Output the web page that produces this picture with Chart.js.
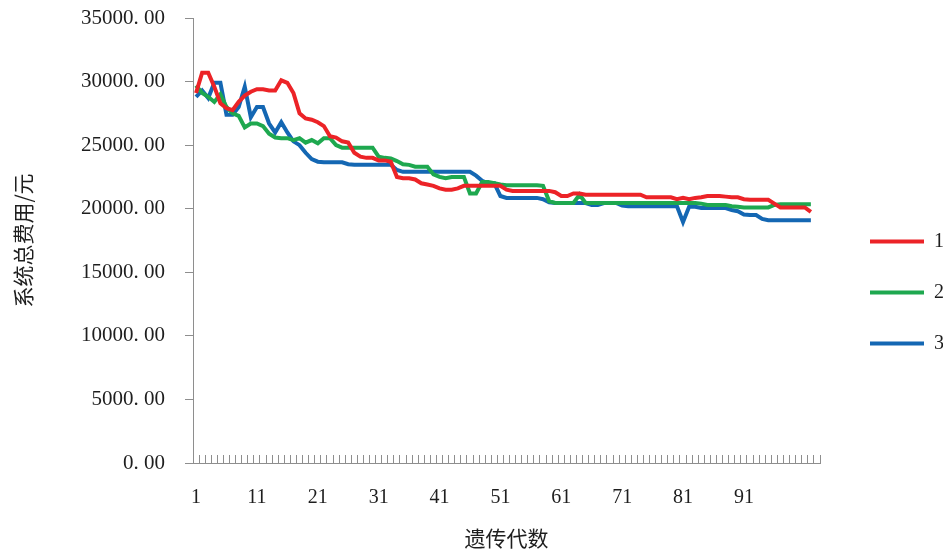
<!DOCTYPE html>
<html>
<head>
<meta charset="utf-8">
<script src="https://cdn.jsdelivr.net/npm/chart.js@4/dist/chart.umd.min.js"></script>
<style>
  html, body { margin: 0; padding: 0; background: #fff; }
  #wrap { width: 943px; height: 551px; }
</style>
</head>
<body>
<div id="wrap"><canvas id="myChart" width="943" height="551"></canvas></div>
<script>
// generations 1..103 on the axis, the runs stop at 102
const generations = [];
for (let g = 1; g <= 103; g++) generations.push(String(g));

const seriesNames = ['1', '2', '3'];

const run1 = [
  29100, 30700, 30700, 29600, 28300, 27900, 27750, 28400, 28900, 29200,
  29400, 29400, 29300, 29300, 30100, 29900, 29100, 27500, 27100, 27000,
  26800, 26500, 25700, 25600, 25300, 25200, 24400, 24100, 24000, 24000,
  23800, 23800, 23700, 22500, 22400, 22400, 22300, 22000, 21900, 21800,
  21600, 21500, 21500, 21600, 21800, 21800, 21800, 21800, 21800, 21800,
  21800, 21500, 21400, 21400, 21400, 21400, 21400, 21400, 21400, 21300,
  21000, 21000, 21200, 21200, 21100, 21100, 21100, 21100, 21100, 21100,
  21100, 21100, 21100, 21100, 20900, 20900, 20900, 20900, 20900, 20750,
  20850, 20750, 20850, 20900, 21000, 21000, 21000, 20950, 20900, 20900,
  20750, 20700, 20700, 20700, 20700, 20400, 20100, 20100, 20100, 20100,
  20100, 19750
];

const run2 = [
  29700, 29100, 28800, 28400, 29000, 28000, 27500, 27300, 26400, 26700,
  26700, 26500, 25900, 25600, 25550, 25550, 25400, 25550, 25200, 25400,
  25150, 25550, 25550, 25000, 24800, 24800, 24800, 24800, 24800, 24800,
  24100, 24000, 23950, 23750, 23500, 23450, 23300, 23300, 23300, 22700,
  22500, 22400, 22500, 22500, 22500, 21200, 21200, 22100, 22100, 22000,
  21900, 21850, 21850, 21850, 21850, 21850, 21850, 21800, 20600, 20450,
  20450, 20450, 20450, 21100, 20450, 20450, 20450, 20450, 20450, 20450,
  20450, 20450, 20450, 20450, 20450, 20450, 20450, 20450, 20450, 20450,
  20450, 20450, 20450, 20400, 20300, 20300, 20300, 20300, 20200, 20150,
  20100, 20100, 20100, 20100, 20100, 20300, 20350, 20350, 20350, 20350,
  20350, 20350
];

const run3 = [
  28800, 29300, 28700, 29900, 29900, 27400, 27400, 28000, 29600, 27200,
  28000, 28000, 26700, 26000, 26800, 26000, 25300, 25000, 24400, 23900,
  23700, 23650, 23650, 23650, 23650, 23500, 23450, 23450, 23450, 23450,
  23450, 23450, 23450, 23050, 22900, 22900, 22900, 22900, 22900, 22900,
  22900, 22900, 22900, 22900, 22900, 22900, 22600, 22200, 22000, 22000,
  21000, 20850, 20850, 20850, 20850, 20850, 20850, 20750, 20500, 20450,
  20450, 20450, 20450, 20450, 20450, 20300, 20300, 20450, 20450, 20450,
  20250, 20200, 20200, 20200, 20200, 20200, 20200, 20200, 20200, 20200,
  18950, 20150, 20150, 20050, 20050, 20050, 20050, 20050, 19900, 19800,
  19550, 19500, 19500, 19200, 19100, 19100, 19100, 19100, 19100, 19100,
  19100, 19100
];

const yMin = 0;
const yMax = 35000;
const yStep = 5000;

const colors = ['#ec2327', '#1ea84f', '#1467b3'];
const axisColor = '#8e8e8e';
const textColor = '#1e1e1e';
const serif = '"Liberation Serif", "DejaVu Serif", serif';
const cjk = '"Noto Sans CJK SC", "Noto Sans", sans-serif';

// no extra room above the plot for the top tick label
function noPad(scale) {
  scale.paddingTop = 0;
  scale.paddingBottom = 0;
}

const ctx = document.getElementById('myChart').getContext('2d');

new Chart(ctx, {
  type: 'line',
  data: {
    labels: generations,
    datasets: [run1, run2, run3].map((vals, i) => ({
      label: seriesNames[i],
      data: vals,
      borderColor: colors[i],
      backgroundColor: colors[i],
      borderWidth: 4,
      pointRadius: 0,
      tension: 0,
      fill: false
    }))
  },
  options: {
    responsive: false,
    animation: false,
    layout: { padding: { top: 18, left: 0, right: 0, bottom: 0 } },
    plugins: {
      tooltip: { enabled: false },
      legend: {
        position: 'right',
        maxWidth: 104,
        title: { display: true, text: ' ', font: { size: 10 }, padding: { top: 4, bottom: 0 } },
        labels: {
          usePointStyle: true,
          pointStyle: 'line',
          pointStyleWidth: 54,
          padding: 31,
          color: textColor,
          font: { family: serif, size: 20 }
        }
      }
    },
    scales: {
      x: {
        type: 'category',
        offset: true,
        border: { color: axisColor, width: 1 },
        grid: {
          offset: true,
          drawOnChartArea: false,
          tickLength: -8,
          color: axisColor,
          tickColor: axisColor
        },
        ticks: {
          autoSkip: false,
          maxRotation: 0,
          minRotation: 0,
          padding: 31,
          color: textColor,
          font: { family: serif, size: 20 },
          callback: function (val, idx) {
            return (idx % 10 === 0 && idx < 100) ? generations[idx] : '';
          }
        },
        title: {
          display: true,
          text: '遗传代数',
          color: textColor,
          font: { family: cjk, size: 21 },
          padding: { top: 0, bottom: 0 }
        },
        afterFit: function (scale) { scale.height = 88; }
      },
      y: {
        min: yMin,
        max: yMax,
        border: { color: axisColor, width: 1 },
        grid: {
          drawOnChartArea: false,
          tickLength: 8,
          color: axisColor,
          tickColor: axisColor
        },
        ticks: {
          stepSize: yStep,
          padding: 20,
          color: textColor,
          font: { family: serif, size: 21 },
          callback: function (v) { return v.toFixed(2).replace('.', '. '); }
        },
        title: {
          display: true,
          text: '系统总费用/元',
          color: textColor,
          font: { family: cjk, size: 21 },
          padding: { top: 10, bottom: 0 }
        },
        afterFit: function (scale) { scale.width = 193; noPad(scale); }
      },
      gap: {
        position: 'right',
        display: true,
        border: { display: false },
        grid: { display: false },
        ticks: { display: false },
        afterFit: function (scale) { scale.width = 19; noPad(scale); }
      }
    }
  }
});
</script>
</body>
</html>
